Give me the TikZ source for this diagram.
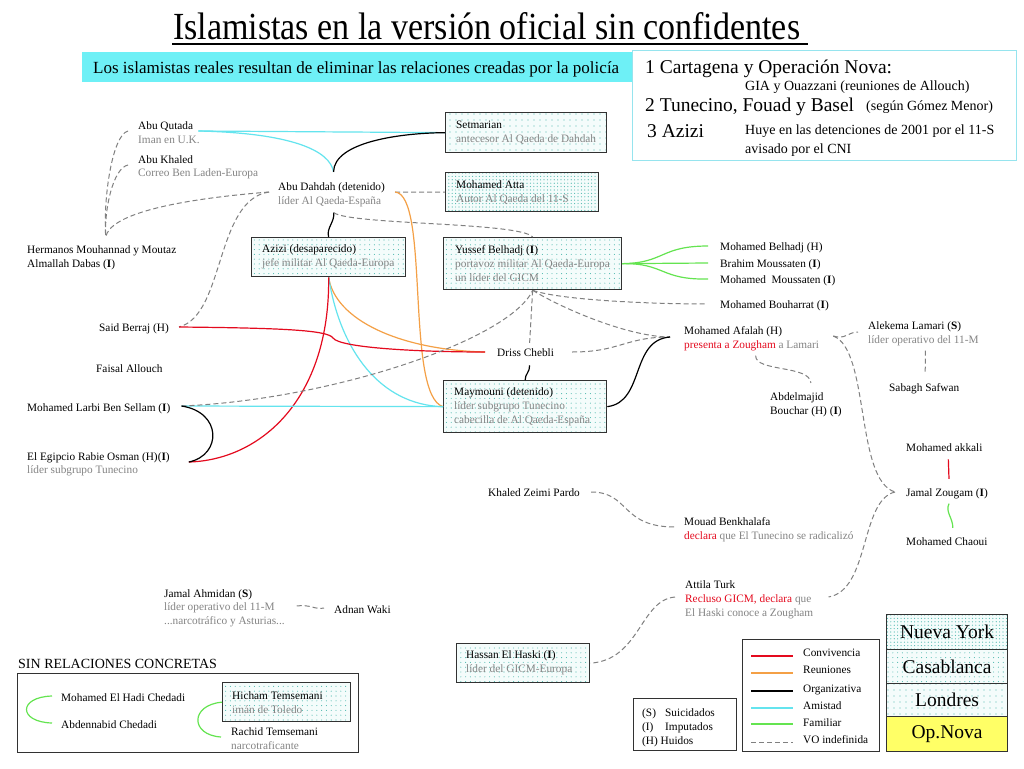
\documentclass[tikz,border=0pt]{standalone}
\usepackage{fontspec}
\setmainfont{Liberation Serif}
\usetikzlibrary{calc,patterns}
\pgfdeclarepatternformonly{dotsC}{\pgfqpoint{-1pt}{-1pt}}{\pgfqpoint{1pt}{1pt}}{\pgfqpoint{4.8pt}{4.8pt}}{\pgfpathcircle{\pgfqpoint{0pt}{0pt}}{0.55pt}\pgfusepath{fill}}
\pgfdeclarepatternformonly{dotsNY}{\pgfqpoint{-1pt}{-1pt}}{\pgfqpoint{1pt}{1pt}}{\pgfqpoint{3.4pt}{3.4pt}}{\pgfpathcircle{\pgfqpoint{0pt}{0pt}}{0.6pt}\pgfusepath{fill}}
\pgfdeclarepatternformonly{dotsL}{\pgfqpoint{-1pt}{-1pt}}{\pgfqpoint{1pt}{1pt}}{\pgfqpoint{6pt}{6pt}}{\pgfpathcircle{\pgfqpoint{0pt}{0pt}}{0.55pt}\pgfusepath{fill}}
\definecolor{txtgray}{RGB}{132,132,132}
\definecolor{convred}{RGB}{228,10,30}
\definecolor{reunorange}{RGB}{244,160,70}
\definecolor{amiscyan}{RGB}{100,228,238}
\definecolor{famigreen}{RGB}{100,228,80}
\definecolor{vogray}{RGB}{128,128,128}
\definecolor{subcyan}{RGB}{110,240,246}
\definecolor{infoline}{RGB}{150,228,238}
\definecolor{dotc}{RGB}{80,185,175}
\definecolor{boxbg}{RGB}{244,252,251}
\definecolor{boxline}{RGB}{50,50,50}
\definecolor{novayellow}{RGB}{255,255,102}
\newcommand{\smallf}{\fontsize{11.3}{14}\selectfont}
\newcommand{\midf}{\fontsize{14}{17}\selectfont}
\newcommand{\bigf}{\fontsize{19.5}{22}\selectfont}
\begin{document}
\begin{tikzpicture}[x=1pt,y=-1pt,
  txt/.style={anchor=base west, inner sep=0pt, font=\smallf},
  gtxt/.style={txt, text=txtgray},
  bx/.style={draw=boxline, line width=1.3pt, preaction={fill=boxbg}, pattern=dotsC, pattern color=dotc, anchor=north west, inner sep=0pt},
  bxtxt/.style={anchor=west, align=left, inner sep=0pt, font=\smallf},
  citybox/.style={draw=boxline, line width=1.2pt, anchor=north west, inner sep=0pt, minimum width=121pt, font=\bigf},
  plainbox/.style={draw=boxline, line width=1.2pt, anchor=north west, inner sep=0pt},
  rel/.style={line width=1.2pt},
  conv/.style={rel, draw=convred},
  reun/.style={rel, draw=reunorange},
  orga/.style={rel, draw=black},
  amis/.style={rel, draw=amiscyan},
  fami/.style={rel, draw=famigreen},
  vo/.style={line width=1pt, draw=vogray, dash pattern=on 5pt off 3pt}
]
\useasboundingbox (0,0) rectangle (1024,768);
\fill[white] (0,0) rectangle (1024,768);

% ---------- title ----------
\node[anchor=base west, inner sep=0pt] (title) at (173,39) {\resizebox{627pt}{27pt}{\fontsize{36}{36}\selectfont Islamistas en la versión oficial sin confidentes}};
\draw[line width=1.3pt] ($(title.base west)+(-1,5)$) -- ($(title.base east)+(8,5)$);

% ---------- subtitle bar ----------
\node[fill=subcyan, minimum width=550pt, minimum height=30pt, anchor=north west, inner sep=0pt] (bar) at (82,52) {};
\node[anchor=base west, inner sep=0pt] (bartxt) at (93,73) {\resizebox{526pt}{!}{\fontsize{15}{15}\selectfont Los islamistas reales resultan de eliminar las relaciones creadas por la policía}};

% ---------- info box ----------
\node[draw=infoline, line width=1pt, minimum width=384pt, minimum height=110pt, anchor=north west, inner sep=0pt] (info) at (632,50) {};
\node[anchor=base west, inner sep=0pt, font=\bigf] (inf1) at (645,73) {1 Cartagena y Operación Nova:};
\node[anchor=base west, inner sep=0pt, font=\midf] (inf1b) at (745,90) {GIA y Ouazzani (reuniones de Allouch)};
\node[anchor=base west, inner sep=0pt, font=\bigf] (inf2) at (645,111) {2 Tunecino, Fouad y Basel};
\node[anchor=base west, inner sep=0pt, font=\midf] (inf2b) at (866,110) {(según Gómez Menor)};
\node[anchor=base west, inner sep=0pt, font=\bigf] (inf3) at (647,137) {3 Azizi};
\node[anchor=base west, inner sep=0pt, font=\midf] (inf3b) at (745,134) {Huye en las detenciones de 2001 por el 11-S};
\node[anchor=base west, inner sep=0pt, font=\midf] (inf3c) at (745,153) {avisado por el CNI};

% ---------- boxes ----------
\node[bx, pattern=dotsL, minimum width=161pt, minimum height=40pt] (setm) at (445,112) {};
\node[bxtxt] (setmt) at ($(setm.west)+(11,0)$) {Setmarian\\\textcolor{txtgray}{antecesor Al Qaeda de Dahdah}};
\node[bx, pattern=dotsNY, minimum width=153pt, minimum height=39pt] (atta) at (445,172) {};
\node[bxtxt] (attat) at ($(atta.west)+(11,0)$) {Mohamed Atta\\\textcolor{txtgray}{Autor Al Qaeda del 11-S}};
\node[bx, minimum width=154pt, minimum height=39pt] (azizi) at (251,237) {};
\node[bxtxt] (azizit) at ($(azizi.west)+(11,0)$) {Azizi (desaparecido)\\\textcolor{txtgray}{jefe militar Al Qaeda-Europa}};
\node[bx, minimum width=178pt, minimum height=52pt] (yussef) at (443,237) {};
\node[bxtxt] (yusseft) at ($(yussef.west)+(12,0)$) {Yussef Belhadj (\textbf{I})\\\textcolor{txtgray}{portavoz militar Al Qaeda-Europa}\\\textcolor{txtgray}{un líder del GICM}};
\node[bx, minimum width=163pt, minimum height=52pt] (maym) at (443,380) {};
\node[bxtxt] (maymt) at ($(maym.west)+(11,0)$) {Maymouni (detenido)\\\textcolor{txtgray}{líder subgrupo Tunecino}\\\textcolor{txtgray}{cabecilla de Al Qaeda-España}};
\node[bx, minimum width=133pt, minimum height=39pt] (haski) at (456,643) {};
\node[bxtxt] (haskit) at ($(haski.west)+(10,0)$) {Hassan El Haski (\textbf{I})\\\textcolor{txtgray}{líder del GICM-Europa}};

% ---------- people ----------
\node[txt] (abuq) at (138,129) {Abu Qutada};
\node[gtxt] (abuqd) at (138,143) {Iman en U.K.};
\node[txt] (abuk) at (138,163) {Abu Khaled};
\node[gtxt] (abukd) at (138,176) {Correo Ben Laden-Europa};
\node[txt] (dahdah) at (278,190) {Abu Dahdah (detenido)};
\node[gtxt] (dahdahd) at (278,204) {líder Al Qaeda-España};
\node[txt] (herm) at (27,253) {Hermanos Mouhannad y Moutaz};
\node[txt] (herm2) at (27,267) {Almallah Dabas (\textbf{I})};
\node[txt] (berraj) at (99,331) {Said Berraj (H)};
\node[txt] (allouch) at (96,372) {Faisal Allouch};
\node[txt] (larbi) at (27,411) {Mohamed Larbi Ben Sellam (\textbf{I})};
\node[txt] (egip) at (27,460) {El Egipcio Rabie Osman (H)(\textbf{I})};
\node[gtxt] (egipd) at (27,473) {líder subgrupo Tunecino};
\node[txt] (chebli) at (497,356) {Driss Chebli};
\node[txt] (belh) at (720,250) {Mohamed Belhadj (H)};
\node[txt] (brah) at (720,267) {Brahim Moussaten (\textbf{I})};
\node[txt] (mmous) at (720,283) {Mohamed~ Moussaten (\textbf{I})};
\node[txt] (bouh) at (720,308) {Mohamed Bouharrat (\textbf{I})};
\node[txt] (afalah) at (684,334) {Mohamed Afalah (H)};
\node[gtxt] (afalahd) at (684,348) {\textcolor{convred}{presenta a Zougham} a Lamari};
\node[txt] (lamari) at (868,329) {Alekema Lamari (\textbf{S})};
\node[gtxt] (lamarid) at (868,343) {líder operativo del 11-M};
\node[txt] (safwan) at (889,391) {Sabagh Safwan};
\node[txt] (abdel) at (770,400) {Abdelmajid};
\node[txt] (abdel2) at (770,414) {Bouchar (H) (\textbf{I})};
\node[txt] (akkali) at (906,451) {Mohamed akkali};
\node[txt] (zougam) at (906,496) {Jamal Zougam (\textbf{I})};
\node[txt] (chaoui) at (906,545) {Mohamed Chaoui};
\node[txt] (zeimi) at (488,496) {Khaled Zeimi Pardo};
\node[txt] (mouad) at (684,525) {Mouad Benkhalafa};
\node[gtxt] (mouadd) at (684,539) {\textcolor{convred}{declara} que El Tunecino se radicalizó};
\node[txt] (attila) at (685,588) {Attila Turk};
\node[gtxt] (attilad1) at (685,602) {\textcolor{convred}{Recluso GICM, declara} que};
\node[gtxt] (attilad2) at (685,616) {El Haski conoce a Zougham};
\node[txt] (ahmidan) at (164,597) {Jamal Ahmidan (\textbf{S})};
\node[gtxt] (ahmidand1) at (164,610) {líder operativo del 11-M};
\node[gtxt] (ahmidand2) at (164,624) {...narcotráfico y Asturias...};
\node[txt] (waki) at (334,613) {Adnan Waki};

% ---------- sin relaciones ----------
\node[anchor=base west, inner sep=0pt, font=\midf] (sinrel) at (18,668) {SIN RELACIONES CONCRETAS};
\node[plainbox, minimum width=341pt, minimum height=79pt] (sinbox) at (17,673) {};
\node[txt] (ched1) at (61,701) {Mohamed El Hadi Chedadi};
\node[txt] (ched2) at (61,728) {Abdennabid Chedadi};
\node[bx, minimum width=128pt, minimum height=39pt] (hicham) at (222,682) {};
\node[bxtxt] (hichamt) at ($(hicham.west)+(10,0)$) {Hicham Temsemani\\\textcolor{txtgray}{imán de Toledo}};
\node[txt] (rachid) at (231,735) {Rachid Temsemani};
\node[gtxt] (rachidd) at (231,749) {narcotraficante};

% ---------- legends ----------
\node[plainbox, minimum width=103pt, minimum height=52pt] (legS) at (633,698) {};
\node[txt] (legS1) at ($(legS.north west)+(9,18)$) {\makebox[23pt][l]{(S)}Suicidados};
\node[txt] (legS2) at ($(legS.north west)+(9,32)$) {\makebox[23pt][l]{(I)}Imputados};
\node[txt] (legS3) at ($(legS.north west)+(9,46)$) {(H) Huidos};

\node[plainbox, minimum width=137pt, minimum height=112pt] (legR) at (742,639) {};
\node[txt] (lgc) at ($(legR.north west)+(61,17)$) {Convivencia};
\node[txt] (lgr) at ($(legR.north west)+(61,34)$) {Reuniones};
\node[txt] (lgo) at ($(legR.north west)+(61,53)$) {Organizativa};
\node[txt] (lga) at ($(legR.north west)+(61,70)$) {Amistad};
\node[txt] (lgf) at ($(legR.north west)+(61,87)$) {Familiar};
\node[txt] (lgv) at ($(legR.north west)+(61,104)$) {VO indefinida};
\draw[conv] ($(legR.north west)+(9,17)$) -- ++(42,0);
\draw[reun] ($(legR.north west)+(9,34)$) -- ++(42,0);
\draw[orga] ($(legR.north west)+(9,52)$) -- ++(42,0);
\draw[amis] ($(legR.north west)+(9,69)$) -- ++(42,0);
\draw[fami] ($(legR.north west)+(9,85)$) -- ++(42,0);
\draw[vo] ($(legR.north west)+(9,103)$) -- ++(42,0);

% ---------- city boxes ----------
\node[citybox, preaction={fill=boxbg}, pattern=dotsNY, pattern color=dotc, minimum height=35pt] (ny) at (886,614) {};
\node[font=\bigf, inner sep=0pt] (nyt) at (ny.center) {Nueva York};
\node[citybox, preaction={fill=boxbg}, pattern=dotsC, pattern color=dotc, minimum height=34pt] (casa) at (886,649) {};
\node[font=\bigf, inner sep=0pt] (casat) at (casa.center) {Casablanca};
\node[citybox, preaction={fill=boxbg}, pattern=dotsL, pattern color=dotc, minimum height=33pt] (lond) at (886,683) {};
\node[font=\bigf, inner sep=0pt] (londt) at (lond.center) {Londres};
\node[citybox, fill=novayellow, minimum height=35pt] (nova) at (886,716) {};
\node[font=\bigf, inner sep=0pt] (novat) at (nova.center) {Op.Nova};

% ---------- connectors ----------
\draw[amis] ($(abuq.base east)+(5,2)$) -- (setm.west);
\draw[amis] ($(abuq.base east)+(5,2)$) .. controls (290,133) and (330,150) .. ($(dahdah.north)+(2,-10)$);
\draw[orga] ($(dahdah.north)+(2,-10)$) .. controls (334,142) and (400,133) .. (setm.west);
\draw[vo] ($(abuq.base west)+(-10,2)$) .. controls (112,135) and (103,200) .. ($(herm.north)+(4,-8)$);
\draw[vo] ($(abuk.base west)+(-10,2)$) .. controls (113,168) and (104,210) .. ($(herm.north)+(4,-8)$);
\draw[vo] ($(dahdah.base west)+(-9,2)$) .. controls (170,200) and (110,215) .. ($(herm.north)+(4,-8)$);
\draw[vo] ($(dahdah.base west)+(-9,2)$) .. controls (215,200) and (225,315) .. ($(berraj.base east)+(10,-4)$);
\draw[vo] ($(dahdah.base east)+(10,2)$) -- (atta.west);
\draw[reun] ($(dahdah.base east)+(10,2)$) .. controls (430,195) and (405,395) .. (maym.west);
\draw[orga] ($(dahdahd.south)+(4,6)$) .. controls (335,222) and (326,228) .. (azizi.north);
\draw[vo] ($(dahdahd.south)+(4,6)$) .. controls (350,225) and (520,222) .. (yussef.north);
\draw[reun] (azizi.south) .. controls (335,320) and (400,350) .. ($(chebli.base west)+(-12,-4)$);
\draw[amis] (azizi.south) .. controls (340,350) and (380,405) .. (maym.west);
\draw[conv] (azizi.south) .. controls (330,400) and (260,460) .. ($(egip.base east)+(19,2)$);
\draw[conv] ($(berraj.base east)+(10,-4)$) .. controls (280,328) and (328,330) .. (333,338) .. controls (340,348) and (420,352) .. ($(chebli.base west)+(-12,-4)$);
\draw[amis] ($(larbi.base east)+(11,-5)$) -- (maym.west);
\draw[vo] ($(larbi.base east)+(11,-5)$) .. controls (330,400) and (510,340) .. (yussef.south);
\draw[orga] ($(larbi.base east)+(11,-5)$) .. controls (222,412) and (222,455) .. ($(egip.base east)+(19,2)$);
\draw[vo] (yussef.south) -- ($(chebli.north)+(4,-5)$);
\draw[vo] (yussef.south) .. controls (560,300) and (650,304) .. ($(bouh.base west)+(-13,-4)$);
\draw[vo] (yussef.south) .. controls (565,310) and (630,337) .. ($(afalah.base west)+(-14,3)$);
\draw[vo] ($(chebli.base east)+(18,-4)$) .. controls (620,352) and (625,337) .. ($(afalah.base west)+(-14,3)$);
\draw[orga] ($(chebli.south)+(4,9)$) .. controls (530,372) and (525,374) .. (maym.north);
\draw[orga] (maym.east) .. controls (645,402) and (630,340) .. ($(afalah.base west)+(-14,3)$);
\draw[fami] (yussef.east) .. controls (665,263) and (660,246) .. ($(belh.base west)+(-12,-4)$);
\draw[fami] (yussef.east) -- ($(brah.base west)+(-12,-4)$);
\draw[fami] (yussef.east) .. controls (665,263) and (660,280) .. ($(mmous.base west)+(-12,-4)$);
\draw[vo] ($(afalahd.base east)+(14,-12)$) .. controls (845,340) and (848,332) .. ($(lamari.base west)+(-10,3)$);
\draw[vo] ($(afalahd.base east)+(14,-12)$) .. controls (870,350) and (855,480) .. ($(zougam.base west)+(-11,-4)$);
\draw[vo] ($(afalahd.south)+(4,5)$) .. controls (755,372) and (810,365) .. ($(abdel.north)+(14,-9)$);
\draw[vo] ($(lamarid.south)+(2,5)$) -- ($(safwan.north)+(1,-9)$);
\draw[conv] ($(akkali.south)+(4,8)$) -- ($(zougam.north)+(2,-9)$);
\draw[fami] ($(zougam.south)+(2,5)$) .. controls (945,512) and (953,518) .. ($(chaoui.north)+(6,-9)$);
\draw[vo] ($(zougam.base west)+(-11,-4)$) .. controls (860,500) and (870,590) .. ($(attilad1.base east)+(17,-5)$);
\draw[vo] ($(attilad1.base west)+(-10,-5)$) .. controls (640,600) and (640,660) .. (haski.east);
\draw[vo] ($(zeimi.base east)+(11,-4)$) .. controls (630,492) and (620,527) .. ($(mouad.base west)+(-9,2)$);
\draw[vo] ($(ahmidand1.base east)+(22,-4)$) .. controls (310,604) and (315,610) .. ($(waki.base west)+(-10,-5)$);
\draw[fami] ($(ched1.base west)+(-9,-5)$) .. controls (18,697) and (18,722) .. ($(ched2.base west)+(-9,-5)$);
\draw[fami] (hicham.west) .. controls (190,705) and (190,735) .. ($(rachid.base west)+(-10,2)$);
\end{tikzpicture}
\end{document}
